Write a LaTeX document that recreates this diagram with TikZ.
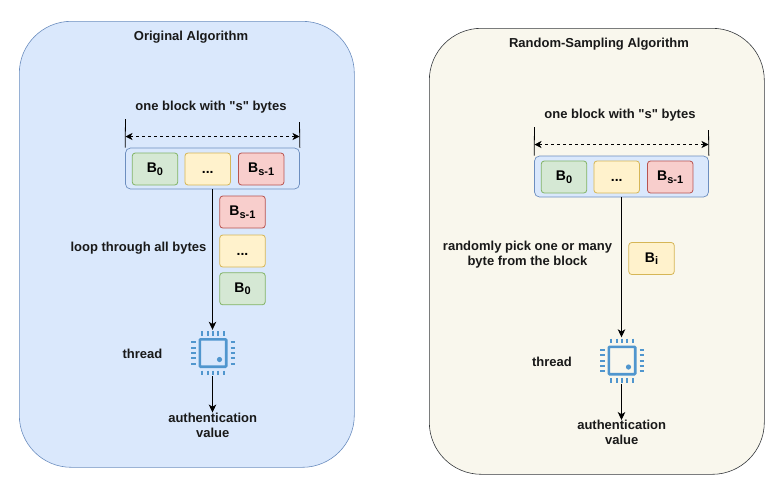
\documentclass[tikz,border=0pt]{standalone}
\usepackage{fontspec}
\setmainfont[Ligatures=TeXOff]{Liberation Sans}
\usetikzlibrary{arrows.meta}
\definecolor{panelblue}{HTML}{DAE8FC}
\definecolor{edgeblue}{HTML}{6C8EBF}
\definecolor{panelcream}{HTML}{F9F7ED}
\definecolor{edgedark}{HTML}{36393D}
\definecolor{gfill}{HTML}{D5E8D4}
\definecolor{gedge}{HTML}{82B366}
\definecolor{yfill}{HTML}{FFF2CC}
\definecolor{yedge}{HTML}{D6B656}
\definecolor{rfill}{HTML}{F8CECC}
\definecolor{redge}{HTML}{B85450}
\definecolor{chipblue}{HTML}{5096CE}
\newcommand{\lowtext}[1]{\raisebox{-2.6pt}{\fontsize{11}{11}\selectfont #1}}
\tikzset{
  x=1pt,y=-1pt,
  panelbase/.style={rounded corners=52pt,line width=0.6pt,minimum width=335pt,minimum height=446pt,anchor=north west,inner sep=0pt},
  panelA/.style={panelbase,draw=edgeblue,fill=panelblue},
  panelB/.style={panelbase,draw=edgedark,fill=panelcream},
  holder/.style={draw=edgeblue,fill=panelblue,rounded corners=5pt,line width=0.7pt,minimum width=174pt,minimum height=41pt,inner sep=0pt},
  bytebase/.style={rounded corners=3pt,line width=0.8pt,minimum width=45.5pt,minimum height=32pt,inner sep=0pt,font=\fontsize{14}{14}\selectfont\bfseries},
  bgreen/.style={bytebase,draw=gedge,fill=gfill},
  byellow/.style={bytebase,draw=yedge,fill=yfill},
  bred/.style={bytebase,draw=redge,fill=rfill},
  lbl/.style={font=\fontsize{13}{15}\selectfont\bfseries,align=center,inner sep=0pt,text=black!90},
  conn/.style={draw=black,line width=0.9pt,-{Stealth[length=8pt,width=7.5pt,inset=2.2pt]}},
  dim/.style={draw=black,line width=0.8pt,dash pattern=on 3pt off 3pt,{Stealth[length=7pt,width=7pt,inset=2pt]}-{Stealth[length=7pt,width=7pt,inset=2pt]}},
  tick/.style={draw=black,line width=0.8pt},
  chipframe/.style={minimum width=46pt,minimum height=46pt,inner sep=0pt},
  pin/.style={draw=chipblue,line width=2pt},
  chipbody/.style={draw=chipblue,line width=2.6pt,rounded corners=0.8pt},
}
\newcommand{\chippins}[1]{%
  \draw[chipbody] ([shift={(-13.2,-13.7)}]#1.center) rectangle ([shift={(13.2,13.7)}]#1.center);
  \fill[chipblue] ([shift={(6.5,6.5)}]#1.center) circle (2.6pt);
  \foreach \d in {-10.6,-5.3,0,5.3,10.6}{
    \draw[pin] ([shift={(\d,-22)}]#1.center) -- ([shift={(\d,-17.5)}]#1.center);
    \draw[pin] ([shift={(\d,17.5)}]#1.center) -- ([shift={(\d,22)}]#1.center);
    \draw[pin] ([shift={(-22,\d)}]#1.center) -- ([shift={(-17.5,\d)}]#1.center);
    \draw[pin] ([shift={(17.5,\d)}]#1.center) -- ([shift={(22,\d)}]#1.center);
  }
}
\begin{document}
\begin{tikzpicture}
\useasboundingbox (0,0) rectangle (783,483);
% left panel
\node[panelA] (pa) at (19,21) {};
\node[lbl] (ta) at (191,37) {Original Algorithm};
\node[lbl] (ba) at (211,107.5) {one block with "s" bytes};
\coordinate (da1) at (125.5,119);
\coordinate (da2) at (299.5,122);
\node[holder] (ha) at (212.5,168.5) {};
\draw[tick] (da1) -- (ha.north west);
\draw[tick] (da2) -- (ha.north east);
\coordinate (dl1) at (125.5,136.5);
\coordinate (dr1) at (299.5,136.5);
\draw[dim] (dl1) -- (dr1);
\node[bgreen] (a0) at (155,169) {B\lowtext{0}};
\node[byellow] (a1) at (207.7,169) {\vphantom{B}...};
\node[bred] (a2) at (261.2,169) {B\lowtext{s-1}};
\node[chipframe] (ca) at (213,353) {};
\draw[conn] (ha.south) -- (ha.south |- ca.north);
\node[bred] (s2) at (242.5,212) {B\lowtext{s-1}};
\node[byellow] (s1) at (242.5,251) {\vphantom{B}...};
\node[bgreen] (s0) at (242.5,288.8) {B\lowtext{0}};
\node[lbl] (la) at (138.5,248) {loop through all bytes};
\node[lbl] (tha) at (142.5,353.5) {thread};
\chippins{ca}
\node[lbl] (aa) at (212.7,425) {authentication\\value};
\draw[conn] (ca.south -| ha.south) -- (ha.south |- aa.north);
% right panel
\node[panelB] (pb) at (429,28) {};
\node[lbl] (tb) at (599,44) {Random-Sampling Algorithm};
\node[lbl] (bb) at (620,115.5) {one block with "s" bytes};
\coordinate (db1) at (534.5,127);
\coordinate (db2) at (708.5,130);
\node[holder] (hb) at (621.5,176.5) {};
\draw[tick] (db1) -- (hb.north west);
\draw[tick] (db2) -- (hb.north east);
\coordinate (dl2) at (534.5,144.5);
\coordinate (dr2) at (708.5,144.5);
\draw[dim] (dl2) -- (dr2);
\node[bgreen] (b0) at (564,177) {B\lowtext{0}};
\node[byellow] (b1) at (616.7,177) {\vphantom{B}...};
\node[bred] (b2) at (670.2,177) {B\lowtext{s-1}};
\node[chipframe] (cb) at (622,360.5) {};
\draw[conn] (hb.south) -- (hb.south |- cb.north);
\node[byellow] (bi) at (651.5,258.5) {B\lowtext{i}};
\node[lbl] (lb) at (527.5,255) {randomly pick one or many\\byte from the block};
\node[lbl] (thb) at (552,361.5) {thread};
\chippins{cb}
\node[lbl] (ab) at (621.7,432.5) {authentication\\value};
\draw[conn] (cb.south -| hb.south) -- (hb.south |- ab.north);
\end{tikzpicture}
\end{document}
